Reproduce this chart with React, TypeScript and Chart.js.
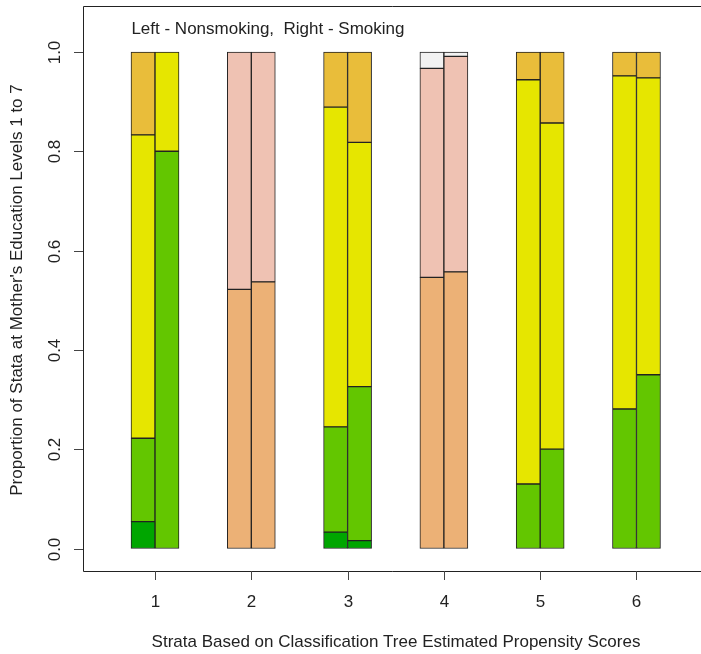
import React, { useEffect, useRef } from "react";
import { Chart, registerables } from "chart.js";

Chart.register(...registerables);

const strata = [1, 2, 3, 4, 5, 6];
const groupOffset = [-0.1246, 0.1246]; // left = nonsmoking, right = smoking
// Proportions per bar: order s1L, s1R, s2L, s2R, ..., s6L, s6R
const level1 = [0.054, 0, 0, 0, 0.033, 0.016, 0, 0, 0, 0, 0, 0];
const level2 = [0.168, 0.8, 0, 0, 0.212, 0.31, 0, 0, 0.13, 0.2, 0.281, 0.35];
const level3 = [0.611, 0.2, 0, 0, 0.644, 0.492, 0, 0, 0.814, 0.657, 0.671, 0.598];
const level4 = [0.167, 0, 0, 0, 0.111, 0.182, 0, 0, 0.056, 0.143, 0.048, 0.052];
const level5 = [0, 0, 0.522, 0.537, 0, 0, 0.546, 0.557, 0, 0, 0, 0];
const level6 = [0, 0, 0.478, 0.463, 0, 0, 0.421, 0.434, 0, 0, 0, 0];
const level7 = [0, 0, 0, 0, 0, 0, 0.033, 0.009, 0, 0, 0, 0];
const levels = [level1, level2, level3, level4, level5, level6, level7];
const levelColors = ["#00A600", "#63C600", "#E6E600", "#E9BD3A", "#ECB176", "#EFC2B3", "#F2F2F2"];
const yTicks = [0, 0.2, 0.4, 0.6, 0.8, 1.0];
const yTickLabels = ["0.0", "0.2", "0.4", "0.6", "0.8", "1.0"];
const noteText = "Left - Nonsmoking,  Right - Smoking";
const xTitle = "Strata Based on Classification Tree Estimated Propensity Scores";
const yTitle = "Proportion of Stata at Mother's Education Levels 1 to 7";

const FONT = '17px "Liberation Sans", Arial, sans-serif';
const TEXT = "#222";

const decorPlugin = {
  id: "decor",
  afterDraw(chart: any) {
    const ctx = chart.ctx;
    const { left, top, right, bottom } = chart.chartArea;
    const xs = chart.scales.x;
    const ys = chart.scales.y;
    ctx.save();
    ctx.strokeStyle = "#222";
    ctx.lineWidth = 1;
    // box (right side falls outside the picture)
    ctx.beginPath();
    ctx.moveTo(right + 20, top + 0.5);
    ctx.lineTo(left + 0.5, top + 0.5);
    ctx.lineTo(left + 0.5, bottom + 0.5);
    ctx.lineTo(right + 20, bottom + 0.5);
    ctx.stroke();
    // y ticks
    ctx.strokeStyle = "#444";
    ctx.fillStyle = TEXT;
    ctx.font = FONT;
    yTicks.forEach((v, i) => {
      const py = Math.round(ys.getPixelForValue(v)) + 0.5;
      ctx.beginPath();
      ctx.moveTo(left - 9, py);
      ctx.lineTo(left, py);
      ctx.stroke();
      ctx.save();
      ctx.translate(55, py);
      ctx.rotate(-Math.PI / 2);
      ctx.textAlign = "center";
      ctx.textBaseline = "middle";
      ctx.fillText(yTickLabels[i], 0, 0);
      ctx.restore();
    });
    // x ticks
    strata.forEach((s) => {
      const px = Math.round(xs.getPixelForValue(s)) + 0.5;
      ctx.beginPath();
      ctx.moveTo(px, bottom);
      ctx.lineTo(px, bottom + 9);
      ctx.stroke();
      ctx.textAlign = "center";
      ctx.textBaseline = "middle";
      ctx.fillText(String(s), px, 602);
    });
    // axis titles
    ctx.textAlign = "center";
    ctx.textBaseline = "middle";
    ctx.fillText(xTitle, 396, 642);
    ctx.save();
    ctx.translate(17, 290);
    ctx.rotate(-Math.PI / 2);
    ctx.fillText(yTitle, 0, 0);
    ctx.restore();
    // note
    ctx.textAlign = "left";
    ctx.fillText(noteText, xs.getPixelForValue(strata[0] - 0.245), ys.getPixelForValue(1.045));
    ctx.restore();
  },
};

export default function App() {
  const ref = useRef<HTMLCanvasElement | null>(null);
  useEffect(() => {
    if (!ref.current) return;
    const datasets = levels.map((vals, li) => ({
      label: "Level " + (li + 1),
      data: vals.map((v, i) => ({
        x: strata[Math.floor(i / 2)] + groupOffset[i % 2],
        y: v > 0 ? v : null,
      })),
      backgroundColor: levelColors[li],
      borderColor: "#222",
      borderWidth: 1,
      borderSkipped: false,
      barThickness: 24,
      stack: "s",
    }));
    const chart = new Chart(ref.current, {
      type: "bar",
      data: { datasets } as any,
      options: {
        animation: false,
        responsive: false,
        layout: { padding: { left: 83, top: 6, right: 0, bottom: 83 } },
        plugins: { legend: { display: false }, tooltip: { enabled: false } },
        scales: {
          x: { type: "linear", display: false, stacked: true, offset: false, min: 0.2523, max: 6.67 },
          y: { type: "linear", display: false, stacked: true, min: -0.0453, max: 1.0926 },
        },
      },
      plugins: [decorPlugin],
    } as any);
    return () => chart.destroy();
  }, []);
  return (
    <div style={{ position: "fixed", left: 0, top: 0, width: 701, height: 654, background: "#fff" }}>
      <canvas ref={ref} width={701} height={654} style={{ display: "block" }} />
    </div>
  );
}
